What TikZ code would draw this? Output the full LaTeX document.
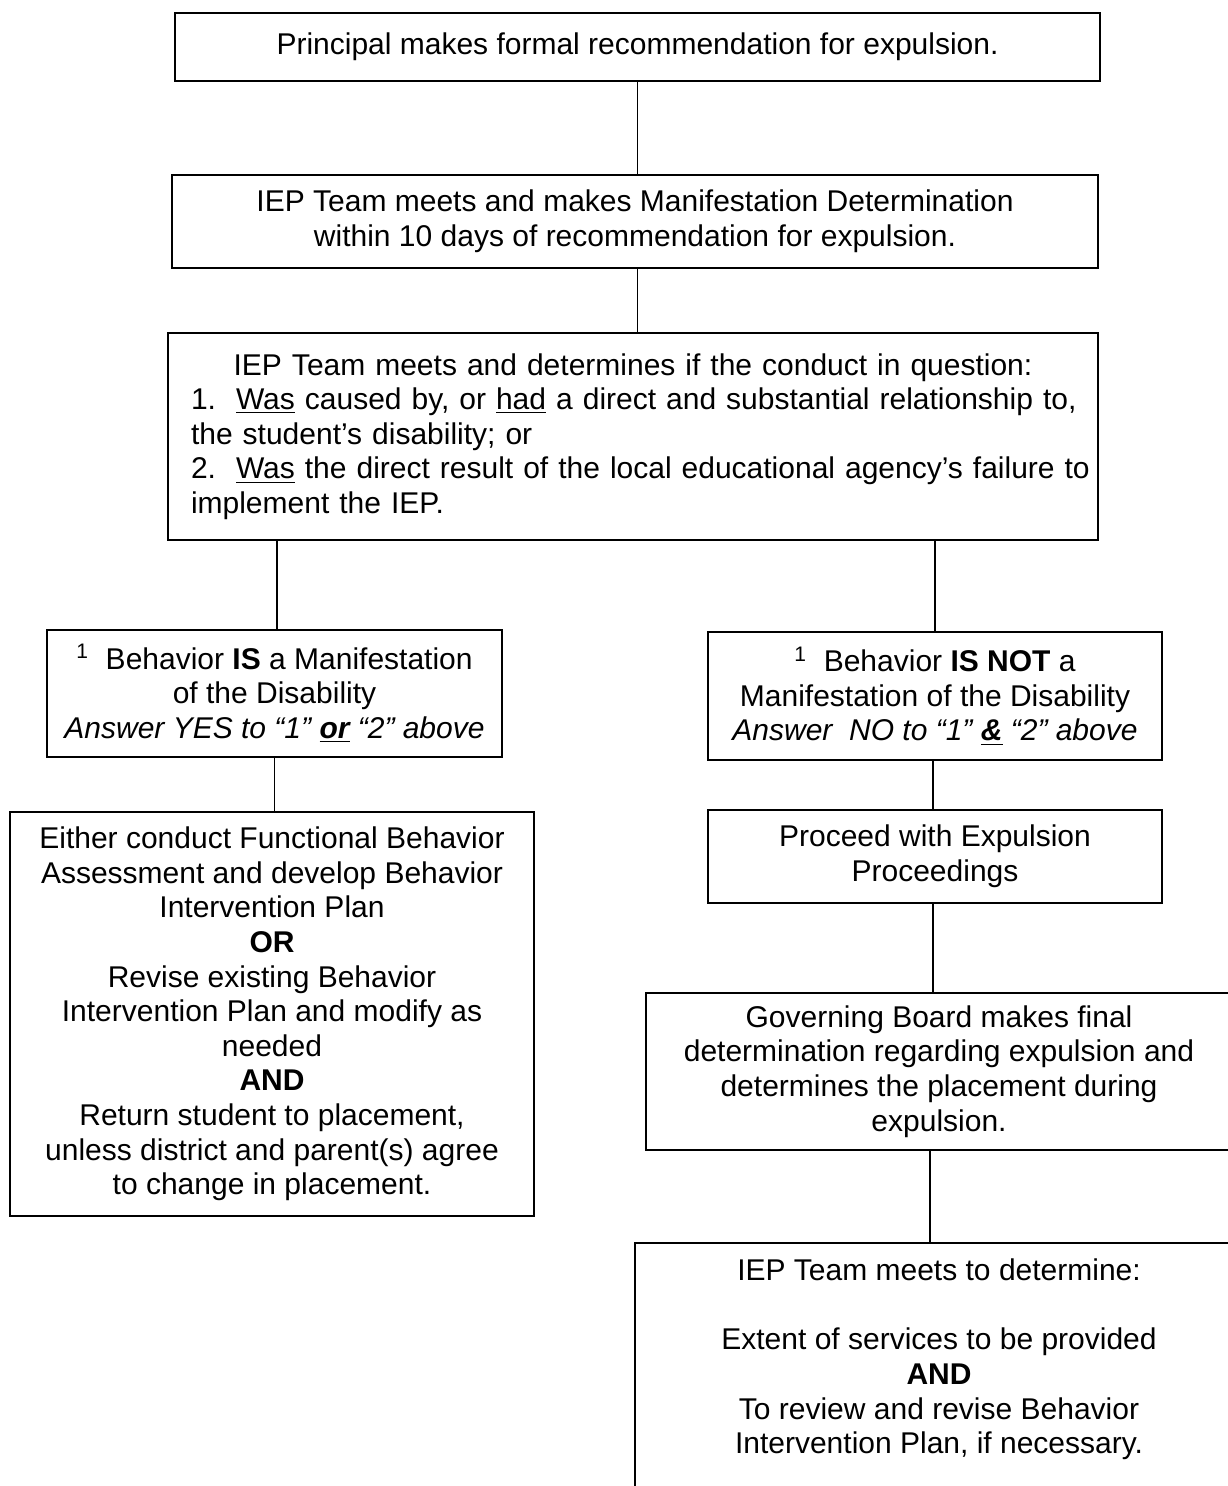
\documentclass[tikz,border=0pt]{standalone}
\usepackage{fontspec}
\setmainfont{Liberation Sans}
\begin{document}
\begin{tikzpicture}[x=0.5pt,y=-0.5pt,
  box/.style={draw, line width=1pt, rectangle, inner sep=0pt, align=center,
              font=\fontsize{15}{17.3}\selectfont},
  conn/.style={line width=0.8pt}]
\useasboundingbox (0,0) rectangle (1227,1486);

\node[box, minimum width=462.5pt, minimum height=34pt] (b1) at (637.5,47)
  {Principal makes formal recommendation for expulsion.};

\node[box, minimum width=463pt, minimum height=46.5pt] (b2) at (635,221.5)
  {IEP Team meets and makes Manifestation Determination\\within 10 days of recommendation for expulsion.};

\node[box, minimum width=465pt, minimum height=103.5pt, text width=442pt, align=left] (b3) at (633,436.5)
  {\makebox[\hsize]{IEP Team meets and determines if the conduct in question:}\\
   \makebox[\hsize][l]{1.\ \ \underline{Was} caused by, or \underline{had} a direct and substantial relationship to,}\\
   \makebox[\hsize][l]{the student’s disability; or}\\
   \makebox[\hsize][l]{2.\ \ \underline{Was} the direct result of the local educational agency’s failure to}\\
   \makebox[\hsize][l]{implement the IEP.}};

\node[box, minimum width=227.5pt, minimum height=63.5pt] (b4) at (274.5,693.5)
  {\textsuperscript{1}\ \ Behavior \textbf{IS} a Manifestation\\of the Disability\\
   \textit{Answer YES to “1” \underline{\textbf{or}} “2” above}};

\node[box, minimum width=227pt, minimum height=64pt] (b5) at (935,696)
  {\textsuperscript{1}\ \ Behavior \textbf{IS NOT} a\\Manifestation of the Disability\\
   \textit{Answer\ \ NO to “1” \underline{\textbf{\&}} “2” above}};

\node[box, minimum width=262pt, minimum height=202pt] (b6) at (272,1014)
  {Either conduct Functional Behavior\\Assessment and develop Behavior\\Intervention Plan\\
   \textbf{OR}\\Revise existing Behavior\\Intervention Plan and modify as\\needed\\
   \textbf{AND}\\Return student to placement,\\unless district and parent(s) agree\\to change in placement.};

\node[box, minimum width=227pt, minimum height=46.5pt] (b7) at (935,856.5)
  {Proceed with Expulsion\\Proceedings};

\node[box, minimum width=293pt, minimum height=78.5pt] (b8) at (939,1071.5)
  {Governing Board makes final\\determination regarding expulsion and\\determines the placement during\\expulsion.};

\node[box, anchor=north, minimum width=304pt, inner ysep=8pt] (b9) at (939,1242)
  {IEP Team meets to determine:\\ \mbox{}\\Extent of services to be provided\\\textbf{AND}\\
   To review and revise Behavior\\Intervention Plan, if necessary.\\ \mbox{}\\ \mbox{}\\ \mbox{}\\ \mbox{}};

\draw[conn] (b1.south) -- (b1.south |- b2.north);
\draw[conn] (b2.south -| b1.south) -- (b1.south |- b3.north);
\draw[conn] ([xshift=1.25pt]b4.north) -- ([xshift=1.25pt]b4.north |- b3.south);
\draw[conn] (b5.north) -- (b5.north |- b3.south);
\draw[conn] (b4.south) -- (b4.south |- b6.north);
\draw[conn] ([xshift=-1pt]b5.south) -- ([xshift=-1pt]b5.south |- b7.north);
\draw[conn] ([xshift=-1pt]b7.south) -- ([xshift=-1pt]b7.south |- b8.north);
\draw[conn] ([xshift=-4.5pt]b8.south) -- ([xshift=-4.5pt]b8.south |- b9.north);
\end{tikzpicture}
\end{document}
